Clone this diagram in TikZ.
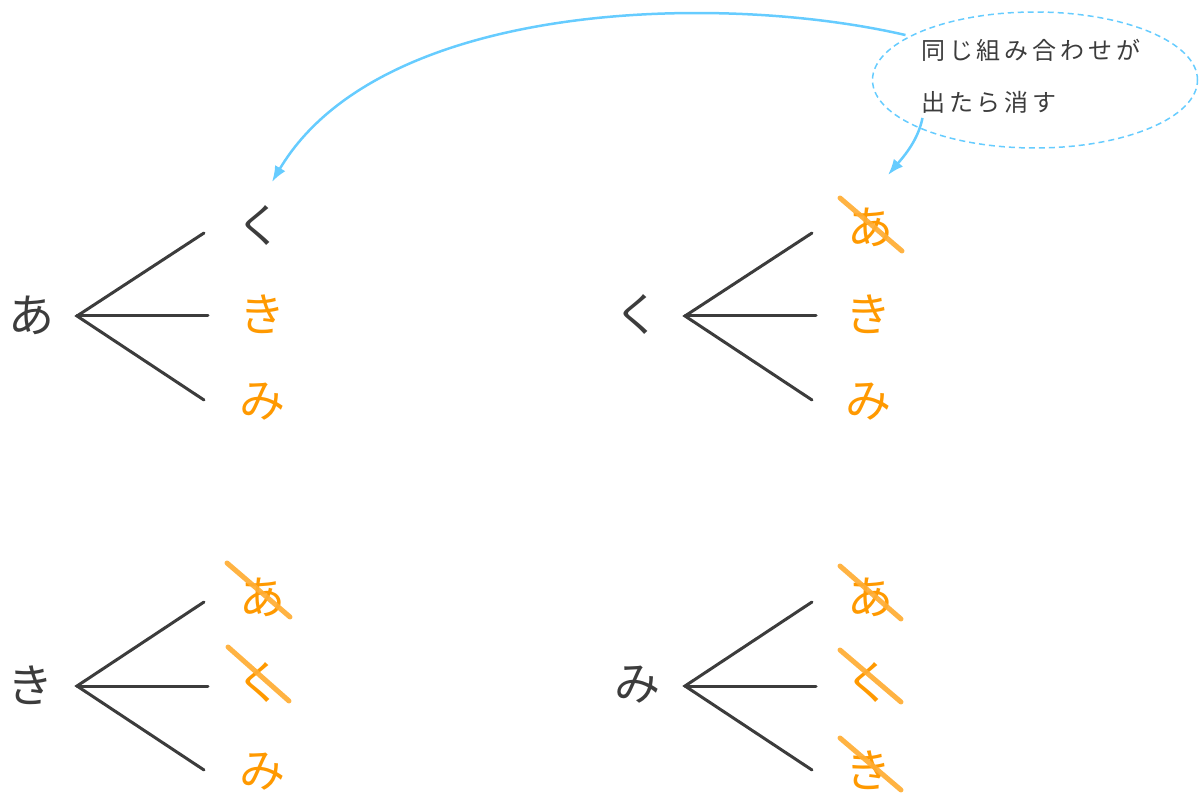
\documentclass[tikz,border=0pt]{standalone}
\usepackage{fontspec}
\setmainfont{Noto Sans CJK JP}
\newfontfamily\notefont[LetterSpace=16]{Noto Sans CJK JP}
\usetikzlibrary{arrows.meta,shapes.geometric}
\definecolor{ink}{HTML}{3C3C3C}
\definecolor{org}{HTML}{FF9900}
\definecolor{strk}{HTML}{FFAD33}
\definecolor{sky}{HTML}{66CCFF}
\begin{document}
\begin{tikzpicture}[x=1pt,y=-1pt,
  big/.style={font=\fontsize{46}{46}\selectfont, inner sep=0pt, text=ink},
  kid/.style={big, text=org},
  branch/.style={draw=ink, line width=3pt, line cap=round},
  strike/.style={draw=strk, line width=5pt, line cap=round, opacity=0.92},
  link/.style={draw=sky, line width=2.5pt, -{Latex[length=16pt,width=12pt]}},
  bubble/.style={ellipse, draw=sky, dash pattern=on 6pt off 4pt, line width=1.5pt, minimum width=325pt, minimum height=136pt, inner sep=0pt}
]
\useasboundingbox (0,0) rectangle (1203,794);

% ---------- tree 1 ----------
\node[big] (r1) at (32,315) {あ};
\coordinate (f1) at (77,316);
\coordinate (e1a) at (204,233);
\coordinate (e1b) at (208,316);
\coordinate (e1c) at (204,400);
\node[big] (c1a) at (259,226) {く};
\node[kid] (c1b) at (262,314) {き};
\node[kid] (c1c) at (262,402) {み};
\draw[branch] (e1a) -- (f1) -- (e1c);
\draw[branch] (f1) -- (e1b);

% ---------- tree 2 ----------
\node[big] (r2) at (637,315) {く};
\coordinate (f2) at (685,316);
\coordinate (e2a) at (812,233);
\coordinate (e2b) at (816,316);
\coordinate (e2c) at (812,400);
\node[kid] (c2a) at (870,227) {あ};
\node[kid] (c2b) at (868,314) {き};
\node[kid] (c2c) at (868,402) {み};
\draw[branch] (e2a) -- (f2) -- (e2c);
\draw[branch] (f2) -- (e2b);
\draw[strike] ([shift={(-30,-29)}]c2a.center) -- ([shift={(32,24)}]c2a.center);

% ---------- tree 3 ----------
\node[big] (r3) at (30,685) {き};
\coordinate (f3) at (77,686);
\coordinate (e3a) at (204,602);
\coordinate (e3b) at (208,686);
\coordinate (e3c) at (204,770);
\node[kid] (c3a) at (262,597) {あ};
\node[kid] (c3b) at (259,683) {く};
\node[kid] (c3c) at (262,772) {み};
\draw[branch] (e3a) -- (f3) -- (e3c);
\draw[branch] (f3) -- (e3b);
\draw[strike] ([shift={(-35,-34)}]c3a.center) -- ([shift={(28,20)}]c3a.center);
\draw[strike] ([shift={(-31,-36)}]c3b.center) -- ([shift={(30,18)}]c3b.center);

% ---------- tree 4 ----------
\node[big] (r4) at (637,685) {み};
\coordinate (f4) at (685,686);
\coordinate (e4a) at (812,602);
\coordinate (e4b) at (816,686);
\coordinate (e4c) at (812,770);
\node[kid] (c4a) at (870,597) {あ};
\node[kid] (c4b) at (868,683) {く};
\node[kid] (c4c) at (868,770) {き};
\draw[branch] (e4a) -- (f4) -- (e4c);
\draw[branch] (f4) -- (e4b);
\draw[strike] ([shift={(-30,-31)}]c4a.center) -- ([shift={(31,22)}]c4a.center);
\draw[strike] ([shift={(-28,-33)}]c4b.center) -- ([shift={(33,19)}]c4b.center);
\draw[strike] ([shift={(-28,-32)}]c4c.center) -- ([shift={(33,20)}]c4c.center);

% ---------- callout ----------
\node[bubble] (callout) at (1035,80) {};
\node[anchor=west, align=left, inner sep=0pt, text=ink,
      font=\notefont\fontsize{24}{52}\selectfont] (note) at (921,76)
  {同じ組み合わせが\\出たら消す};
\coordinate (a1) at (272,182);
\coordinate (a2) at (888,175);
\draw[link] ([shift={(-6,0)}]callout.160) .. controls (720,-8) and (380,0) .. (a1);
\draw[link] ([shift={(11,-7)}]callout.200) .. controls (918,140) and (905,155) .. (a2);
\end{tikzpicture}
\end{document}
